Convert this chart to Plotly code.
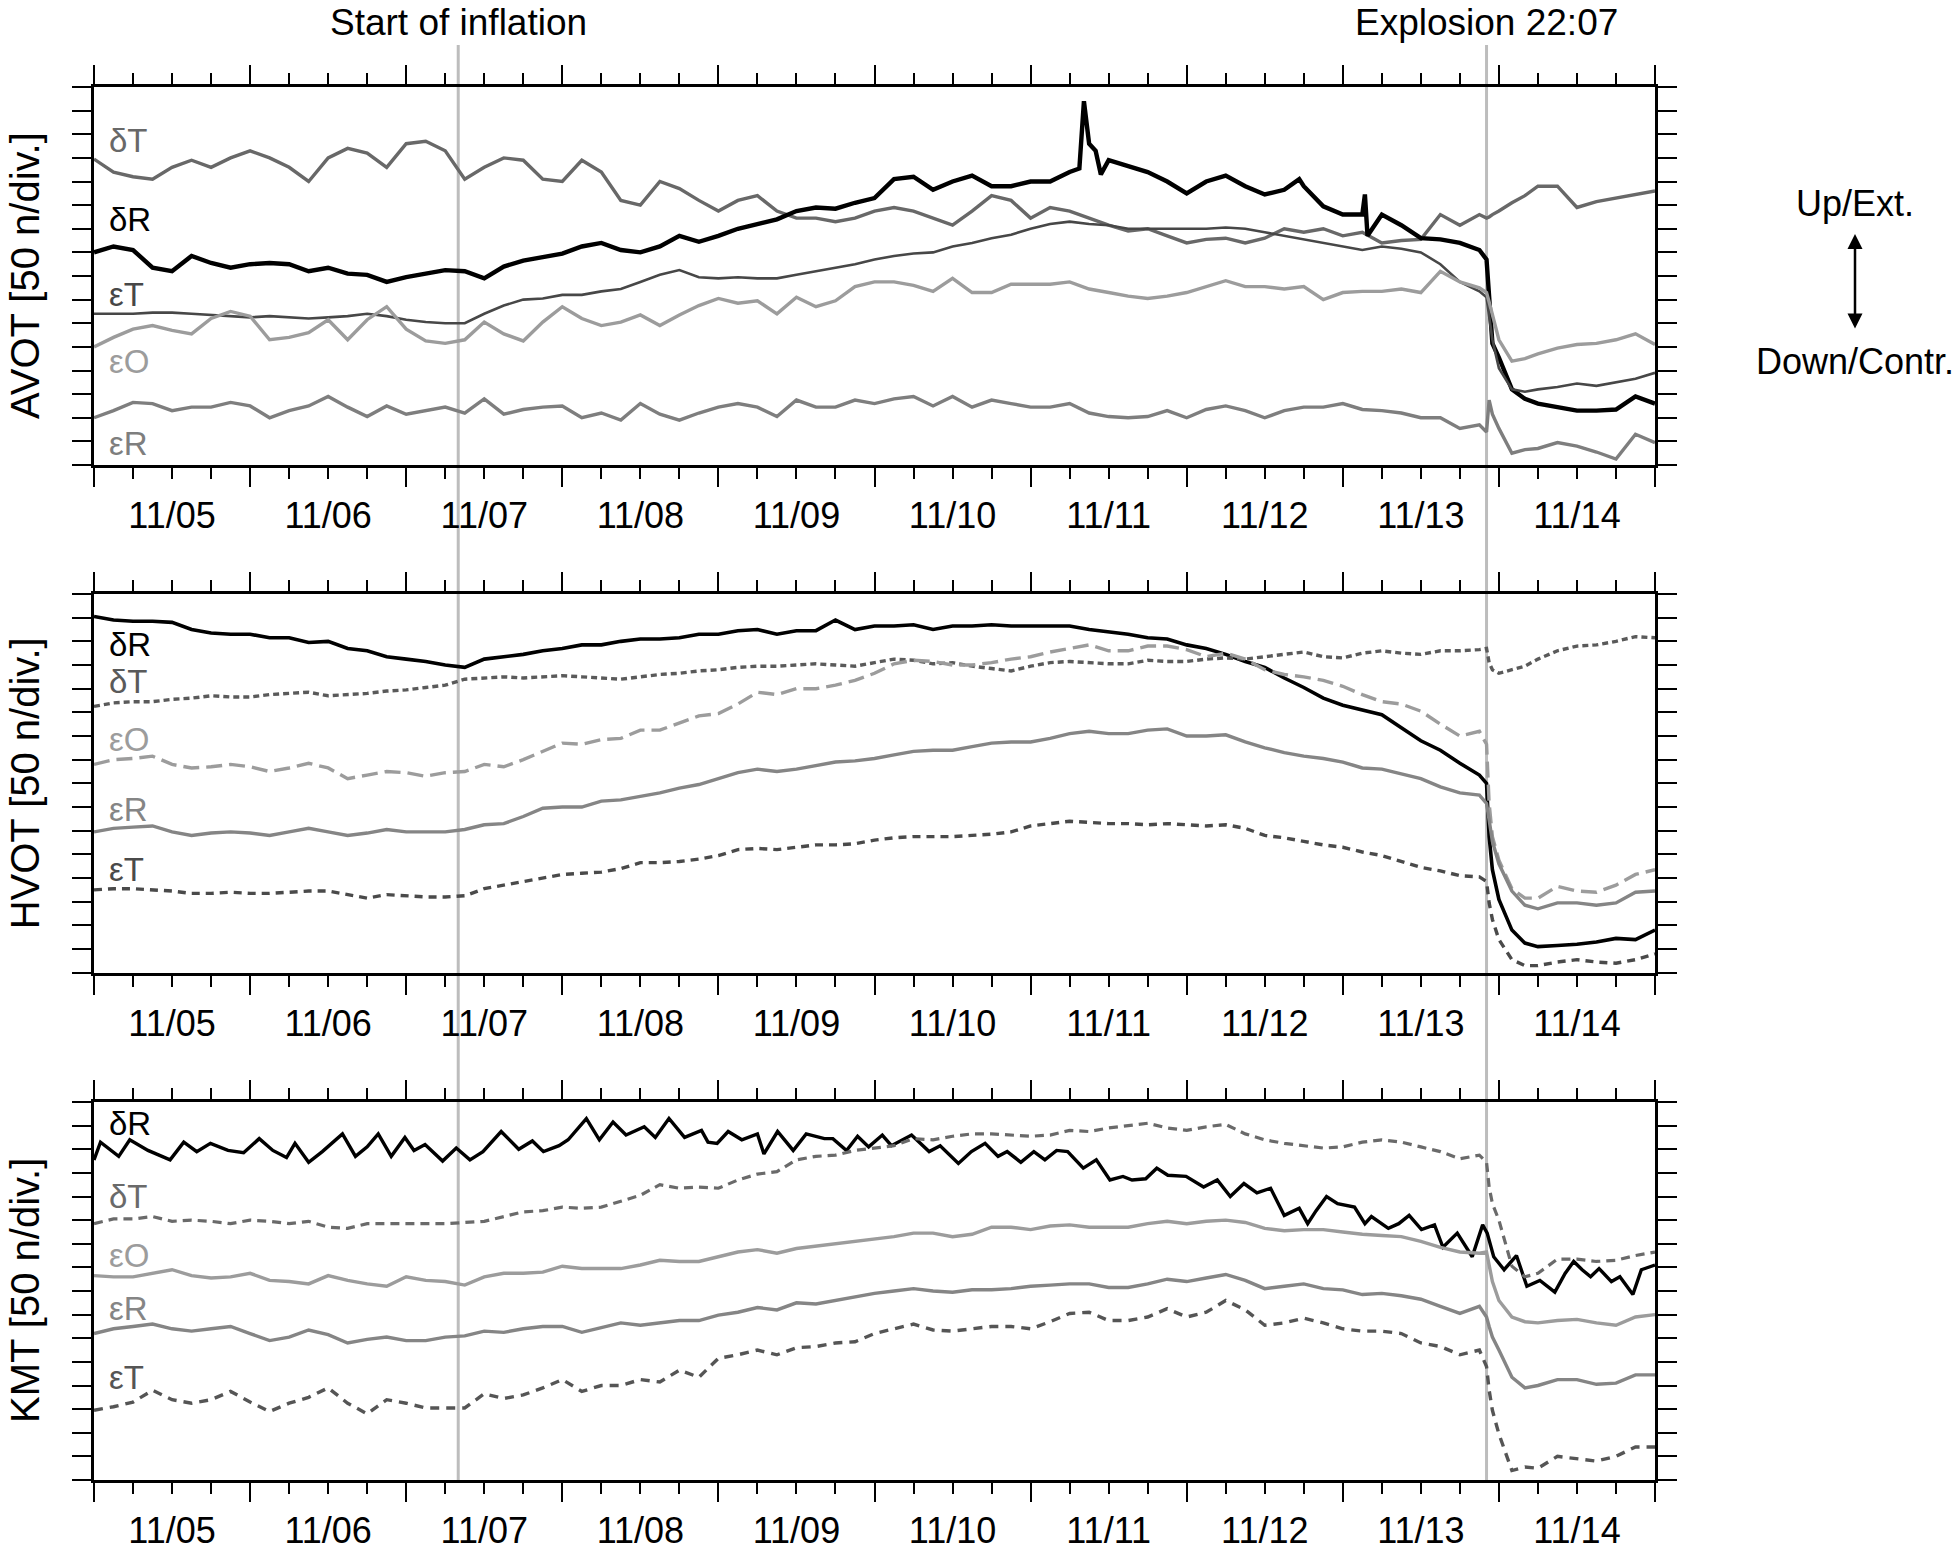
import pandas as pd
import plotly.graph_objects as go

BASE = pd.Timestamp("2014-11-05 00:00")

# common sampling hours (from 11/05 00:00)
HOURS = list(range(0, 214, 3)) + [214.1, 214.5, 215, 216, 218, 220, 222, 225, 228, 231, 234, 237, 240]

# ---------------- AVOT (values in divisions of 50 n) ----------------
AVOT_DT = [12.95, 12.4, 12.2, 12.1, 12.6, 12.9, 12.6, 13.0, 13.3, 13.0, 12.6, 12.0, 13.0, 13.4, 13.2, 12.6,
           13.6, 13.7, 13.3, 12.1, 12.6, 13.0, 12.9, 12.1, 12.0, 12.9, 12.4, 11.2, 11.0, 12.0, 11.7, 11.2,
           10.75, 11.2, 11.4, 10.75, 10.45, 10.45, 10.3, 10.45, 10.75, 10.9, 10.75, 10.45, 10.15, 10.75, 11.4,
           11.2, 10.45, 10.9, 10.75, 10.45, 10.15, 9.9, 10.0, 9.7, 9.4, 9.55, 9.6, 9.4, 9.6, 10.0, 9.85, 10.0,
           9.7, 9.85,
           9.4, 9.5, 9.55, 10.6, 10.15, 10.6,
           10.45, 10.5, 10.6, 10.75, 11.1, 11.4, 11.8, 11.8, 10.9, 11.15, 11.3, 11.45, 11.6]

AVOT_DR_HOURS = (list(range(0, 151, 3)) + [151.5, 152.2, 153, 154, 154.8]
                 + [156, 159, 162, 165, 168, 171, 174, 177, 180, 183, 185.3, 186, 189, 192, 195, 195.4, 195.8,
                    198, 201, 204, 207, 210, 213, 214.1, 214.5, 215, 216, 218, 220, 222, 225, 228, 231, 234,
                    237, 240])
AVOT_DR = [9.0, 9.25, 9.1, 8.35, 8.2, 8.85, 8.55, 8.35, 8.5, 8.55, 8.5, 8.2, 8.35, 8.1, 8.05, 7.75, 7.95,
           8.1, 8.25, 8.2, 7.9, 8.4, 8.65, 8.8, 8.95, 9.25, 9.4, 9.1, 9.0, 9.25, 9.7, 9.45,
           9.7, 10.0, 10.2, 10.4, 10.75, 10.9, 10.85, 11.1, 11.3, 12.1, 12.2, 11.65, 12.0, 12.25, 11.8, 11.8,
           12.0, 12.0, 12.4,
           12.55, 15.4, 13.6, 13.3, 12.3,
           12.9, 12.65, 12.4, 12.0, 11.5, 12.0, 12.25, 11.8, 11.45, 11.65, 12.1, 11.8, 10.95, 10.6, 10.6, 11.45,
           9.7, 10.6, 10.15, 9.6, 9.55, 9.4, 9.1, 8.7, 7.0, 5.15, 4.55, 3.2, 2.8, 2.6, 2.45, 2.3, 2.3, 2.35,
           2.9, 2.6]

AVOT_ET = [6.4, 6.4, 6.4, 6.45, 6.45, 6.4, 6.35, 6.3, 6.25, 6.3, 6.25, 6.2, 6.25, 6.3, 6.4, 6.3, 6.15, 6.05,
           6.0, 6.0, 6.4, 6.75, 7.0, 7.05, 7.2, 7.2, 7.35, 7.45, 7.75, 8.05, 8.25, 7.95,
           7.9, 7.95, 7.9, 7.9, 8.05, 8.2, 8.35, 8.5, 8.7, 8.85, 8.95, 9.0, 9.25, 9.4, 9.6, 9.75, 10.0, 10.2,
           10.3, 10.2, 10.15, 10.0, 10.0, 10.0, 10.0, 10.0, 10.05, 10.0, 9.85, 9.7, 9.55, 9.4, 9.25, 9.1,
           9.25, 9.15, 9.0, 8.5, 7.75, 7.35,
           7.1, 6.2, 5.3, 4.1, 3.2, 3.1, 3.2, 3.3, 3.45, 3.35, 3.5, 3.65, 3.9]

AVOT_EO = [5.0, 5.4, 5.75, 5.9, 5.7, 5.55, 6.2, 6.5, 6.3, 5.3, 5.4, 5.6, 6.15, 5.3, 6.15, 6.7, 5.75, 5.25,
           5.15, 5.3, 6.05, 5.55, 5.25, 6.05, 6.7, 6.2, 5.9, 6.05, 6.35, 5.9, 6.35, 6.75,
           7.05, 6.85, 6.95, 6.4, 7.1, 6.7, 6.95, 7.55, 7.75, 7.75, 7.6, 7.35, 7.9, 7.3, 7.3, 7.65, 7.65, 7.65,
           7.75, 7.45, 7.3, 7.15, 7.05, 7.15, 7.3, 7.55, 7.8, 7.55, 7.55, 7.45, 7.55, 7.0, 7.3, 7.35,
           7.35, 7.45, 7.3, 8.2, 7.75, 7.5,
           7.3, 6.9, 6.4, 5.3, 4.4, 4.5, 4.7, 4.95, 5.1, 5.15, 5.3, 5.55, 5.1]

AVOT_ER = [2.0, 2.3, 2.65, 2.6, 2.3, 2.45, 2.45, 2.65, 2.5, 2.0, 2.3, 2.5, 2.9, 2.45, 2.05, 2.5, 2.15, 2.3,
           2.45, 2.2, 2.8, 2.15, 2.35, 2.45, 2.5, 2.0, 2.2, 1.9, 2.6, 2.15, 1.9, 2.2,
           2.45, 2.6, 2.45, 2.05, 2.75, 2.45, 2.45, 2.75, 2.6, 2.8, 2.9, 2.5, 2.9, 2.45, 2.75, 2.6, 2.45, 2.45,
           2.6, 2.2, 2.05, 2.0, 2.05, 2.3, 2.0, 2.35, 2.5, 2.3, 2.0, 2.3, 2.45, 2.45, 2.6, 2.35,
           2.3, 2.2, 2.0, 2.0, 1.55, 1.7,
           1.4, 2.75, 2.15, 1.55, 0.5, 0.65, 0.7, 0.95, 0.8, 0.55, 0.25, 1.3, 0.95]

# ---------------- HVOT ----------------
HVOT_DR = [15.05, 14.9, 14.85, 14.85, 14.8, 14.5, 14.35, 14.3, 14.3, 14.15, 14.15, 13.95, 14.0, 13.7, 13.6,
           13.35, 13.25, 13.15, 13.0, 12.9, 13.25, 13.35, 13.45, 13.6, 13.7, 13.85, 13.85, 14.0, 14.1, 14.1,
           14.15, 14.3,
           14.3, 14.45, 14.5, 14.3, 14.45, 14.45, 14.9, 14.5, 14.65, 14.65, 14.7, 14.5, 14.65, 14.65, 14.7,
           14.65, 14.65, 14.65, 14.65, 14.5, 14.4, 14.3, 14.15, 14.1, 13.85, 13.7, 13.45, 13.15, 12.9, 12.45,
           12.05, 11.6, 11.3,
           11.1, 10.9, 10.35, 9.8, 9.4, 8.85, 8.35,
           8.0, 5.75, 4.35, 3.1, 1.8, 1.25, 1.1, 1.15, 1.2, 1.3, 1.45, 1.4, 1.8]

HVOT_DT = [11.25, 11.4, 11.45, 11.45, 11.55, 11.6, 11.7, 11.65, 11.65, 11.75, 11.8, 11.85, 11.7, 11.75, 11.8,
           11.9, 11.95, 12.05, 12.15, 12.4, 12.45, 12.5, 12.45, 12.5, 12.55, 12.5, 12.45, 12.4, 12.5, 12.6,
           12.65, 12.75,
           12.8, 12.9, 12.95, 12.95, 13.0, 13.05, 13.0, 12.95, 13.1, 13.25, 13.2, 13.05, 13.1, 12.95, 12.85,
           12.75, 12.95, 13.1, 13.15, 13.1, 13.05, 13.05, 13.2, 13.15, 13.15, 13.25, 13.3, 13.25, 13.35,
           13.45, 13.55, 13.35, 13.3,
           13.5, 13.6, 13.5, 13.45, 13.6, 13.6, 13.65,
           13.7, 13.1, 12.8, 12.65, 12.8, 12.95, 13.25, 13.6, 13.8, 13.85, 14.0, 14.2, 14.15]

HVOT_EO = [8.8, 9.0, 9.05, 9.15, 8.8, 8.65, 8.7, 8.8, 8.7, 8.5, 8.65, 8.85, 8.65, 8.2, 8.35, 8.5, 8.45, 8.3,
           8.45, 8.5, 8.8, 8.7, 9.0, 9.35, 9.7, 9.65, 9.85, 9.9, 10.25, 10.25, 10.55, 10.85,
           10.95, 11.35, 11.85, 11.75, 12.0, 12.0, 12.15, 12.35, 12.65, 13.05, 13.2, 13.15, 13.0, 13.0, 13.1,
           13.25, 13.35, 13.55, 13.7, 13.85, 13.6, 13.6, 13.8, 13.8, 13.65, 13.35, 13.5, 13.25, 12.8, 12.6,
           12.5, 12.35, 12.1,
           11.75, 11.45, 11.35, 11.05, 10.5, 10.0, 10.2,
           9.65, 7.15, 5.75, 4.75, 3.55, 3.15, 3.15, 3.65, 3.45, 3.4, 3.7, 4.15, 4.35]

HVOT_ER = [5.95, 6.1, 6.15, 6.2, 5.95, 5.8, 5.9, 5.95, 5.9, 5.8, 5.95, 6.1, 5.95, 5.8, 5.9, 6.05, 5.95, 5.95,
           5.95, 6.05, 6.25, 6.3, 6.6, 6.95, 7.0, 7.0, 7.25, 7.3, 7.45, 7.6, 7.8, 7.95,
           8.2, 8.45, 8.6, 8.5, 8.6, 8.75, 8.9, 8.95, 9.05, 9.2, 9.35, 9.4, 9.4, 9.55, 9.7, 9.75, 9.75, 9.9,
           10.1, 10.2, 10.1, 10.1, 10.25, 10.3, 10.0, 10.0, 10.05, 9.75, 9.5, 9.3, 9.15, 9.05, 8.9,
           8.65, 8.6, 8.4, 8.2, 7.85, 7.6, 7.5,
           7.15, 6.45, 5.55, 4.6, 3.45, 2.85, 2.7, 2.95, 2.95, 2.85, 2.95, 3.4, 3.45]

HVOT_ET = [3.5, 3.55, 3.55, 3.5, 3.45, 3.35, 3.35, 3.4, 3.35, 3.35, 3.4, 3.45, 3.45, 3.3, 3.15, 3.3, 3.25,
           3.2, 3.2, 3.25, 3.55, 3.7, 3.85, 4.0, 4.15, 4.2, 4.25, 4.4, 4.65, 4.65, 4.7, 4.8,
           4.95, 5.2, 5.25, 5.2, 5.3, 5.4, 5.4, 5.45, 5.6, 5.7, 5.75, 5.75, 5.75, 5.8, 5.85, 5.95, 6.2, 6.3,
           6.4, 6.35, 6.3, 6.3, 6.25, 6.3, 6.25, 6.2, 6.25, 6.1, 5.8, 5.7, 5.55, 5.4, 5.3,
           5.1, 4.95, 4.7, 4.45, 4.3, 4.1, 4.05,
           3.85, 2.95, 2.25, 1.4, 0.55, 0.3, 0.3, 0.45, 0.55, 0.45, 0.4, 0.55, 0.8]

# ---------------- KMT ----------------
KMT_DR_HOURS = [0, 1.0, 3.8, 5.5, 8.3, 11.7, 13.8, 15.8, 17.9, 20.6, 23.0, 25.4, 27.5, 29.6, 30.9, 33.0, 35.1,
                38.2, 40.2, 42.0, 43.7, 45.7, 47.8, 49.2, 50.9, 53.6, 55.7, 57.8, 59.8, 62.6, 65.3, 67.4, 69.1,
                71.5, 72.9, 75.7, 77.7, 79.8, 81.8, 84.6, 86.3, 88.4, 90.8, 93.4,
                94.4, 95.8, 97.5, 99.6, 102.0, 103.0, 105.1, 107.5, 109.5, 112.3, 113.6, 115.7, 117.4, 119.1,
                121.2, 122.6, 125.7, 128.4, 130.1, 132.9, 134.9, 137.0, 139.0, 140.4, 142.5, 144.5, 146.2,
                148.0, 149.7, 152.1, 154.1, 156.2, 158.2, 159.6, 161.7, 163.4, 165.1, 167.9, 170.6, 172.7,
                174.7, 176.8, 178.8, 180.9, 183.0,
                185.3, 186.6, 187.9, 189.5, 191.2, 193.8, 195.4, 196.4, 199.0, 200.6, 202.2, 204.1, 206.1,
                207.4, 209.6, 211.9, 213.5, 214.2, 215.2, 216.8, 218.7, 220.3, 222.3, 224.6, 226.2, 227.5,
                228.8, 230.1, 231.4, 233.3, 234.6, 236.6, 237.9, 240.0]
KMT_DR = [13.55, 14.3, 13.7, 14.4, 13.95, 13.55, 14.3, 13.9, 14.25, 13.95, 13.85, 14.45, 13.95, 13.65, 14.25,
          13.45, 13.9, 14.65, 13.7, 14.1, 14.65, 13.7, 14.5, 13.95, 14.2, 13.5, 14.05, 13.55, 13.9, 14.75,
          14.0, 14.35, 13.9, 14.15, 14.4, 15.3, 14.4, 15.15, 14.6, 14.95, 14.5, 15.3, 14.5, 14.8,
          14.3, 14.25, 14.75, 14.4, 14.65, 13.8, 14.75, 13.95, 14.65, 14.45, 14.45, 13.95, 14.55, 14.1,
          14.6, 14.15, 14.6, 13.9, 14.15, 13.4, 13.9, 14.25, 13.7, 13.9, 13.45, 13.9, 13.55,
          13.95, 13.9, 13.2, 13.55, 12.7, 12.85, 12.7, 12.75, 13.2, 12.9, 12.85, 12.4, 12.7,
          12.0, 12.55, 12.15, 12.35, 11.2,
          11.5, 10.85, 11.4, 12.0, 11.7, 11.55, 10.85, 11.15, 10.65, 10.85, 11.2, 10.6, 10.8,
          9.85, 10.45, 9.45, 10.8, 10.45, 9.45, 8.9, 9.5, 8.2, 8.45, 7.95, 8.75, 9.25,
          8.9, 8.6, 8.95, 8.4, 8.6, 7.85, 8.9, 9.1]

KMT_DT = [10.85, 11.05, 11.05, 11.15, 10.95, 11.0, 10.95, 10.85, 11.0, 10.95, 10.85, 10.95, 10.7, 10.65,
          10.85, 10.85, 10.85, 10.85, 10.85, 10.9, 10.95, 11.15, 11.35, 11.4, 11.55, 11.5, 11.55, 11.8, 12.05,
          12.5, 12.35, 12.4,
          12.35, 12.7, 12.95, 13.05, 13.55, 13.7, 13.75, 13.95, 14.05, 14.15, 14.45, 14.4, 14.55, 14.65,
          14.65, 14.6, 14.55, 14.6, 14.8, 14.75, 14.9, 15.0, 15.1, 14.9, 14.8, 14.95, 15.05, 14.65, 14.4,
          14.25, 14.15, 14.05, 14.1,
          14.3, 14.4, 14.3, 14.1, 13.9, 13.6, 13.75,
          13.45, 12.4, 11.7, 11.0, 9.05, 8.6, 8.75, 9.35, 9.35, 9.25, 9.3, 9.5, 9.65]

KMT_EO = [8.65, 8.6, 8.6, 8.75, 8.9, 8.65, 8.55, 8.6, 8.75, 8.45, 8.4, 8.3, 8.65, 8.45, 8.3, 8.2, 8.6, 8.45,
          8.4, 8.25, 8.6, 8.75, 8.75, 8.8, 9.05, 8.95, 8.95, 8.95, 9.1, 9.3, 9.25, 9.25,
          9.45, 9.65, 9.75, 9.6, 9.8, 9.9, 10.0, 10.1, 10.2, 10.3, 10.45, 10.45, 10.3, 10.4, 10.7, 10.7, 10.6,
          10.75, 10.8, 10.7, 10.7, 10.7, 10.85, 10.95, 10.85, 10.95, 11.0, 10.9, 10.65, 10.55, 10.6, 10.6,
          10.5,
          10.4, 10.35, 10.3, 10.1, 9.85, 9.65, 9.6,
          9.65, 9.0, 8.4, 7.6, 6.9, 6.7, 6.65, 6.75, 6.8, 6.65, 6.55, 6.9, 7.0]

KMT_ER = [6.2, 6.4, 6.5, 6.6, 6.4, 6.3, 6.4, 6.5, 6.2, 5.9, 6.05, 6.35, 6.15, 5.8, 5.95, 6.05, 5.9, 5.9, 6.05,
          6.1, 6.3, 6.25, 6.4, 6.5, 6.5, 6.25, 6.45, 6.65, 6.55, 6.65, 6.75, 6.75,
          6.98, 7.1, 7.3, 7.2, 7.5, 7.45, 7.6, 7.75, 7.9, 8.0, 8.1, 8.0, 7.95, 8.05, 8.05, 8.1, 8.2, 8.25,
          8.3, 8.3, 8.15, 8.15, 8.3, 8.5, 8.4, 8.55, 8.7, 8.45, 8.1, 8.2, 8.3, 8.1, 8.05,
          7.85, 7.9, 7.8, 7.65, 7.35, 7.05, 7.35,
          6.9, 6.5, 6.05, 5.5, 4.35, 3.9, 4.0, 4.25, 4.25, 4.05, 4.1, 4.45, 4.45]

KMT_ET = [2.95, 3.1, 3.3, 3.8, 3.4, 3.25, 3.4, 3.75, 3.3, 2.9, 3.25, 3.5, 3.9, 3.25, 2.8, 3.4, 3.25, 3.05,
          3.05, 3.05, 3.65, 3.45, 3.6, 3.9, 4.25, 3.75, 4.0, 4.0, 4.25, 4.15, 4.65, 4.35,
          5.15, 5.3, 5.5, 5.3, 5.6, 5.65, 5.8, 5.85, 6.2, 6.4, 6.6, 6.35, 6.3, 6.4, 6.5, 6.5, 6.4, 6.7, 7.05,
          7.1, 6.75, 6.75, 6.9, 7.25, 6.9, 7.1, 7.6, 7.2, 6.55, 6.65, 6.85, 6.65, 6.4,
          6.3, 6.3, 6.2, 5.8, 5.65, 5.3, 5.5,
          4.8, 3.8, 2.95, 1.95, 0.4, 0.55, 0.5, 1.0, 0.9, 0.8, 1.0, 1.4, 1.4]

# labels inside panels (y position in divisions)
PANEL_NAMES = ["AVOT", "HVOT", "KMT"]
LABEL_TEXT = {
    "AVOT": ["δT", "δR", "εT", "εO", "εR"],
    "HVOT": ["δR", "δT", "εO", "εR", "εT"],
    "KMT": ["δR", "δT", "εO", "εR", "εT"],
}
LABEL_Y = {
    "AVOT": [13.75, 10.4, 7.2, 4.4, 0.9],
    "HVOT": [13.85, 12.3, 9.85, 6.9, 4.35],
    "KMT": [15.1, 12.0, 9.5, 7.25, 4.35],
}
EVENT_HOURS = [56.0, 214.1]
EVENT_TEXT = ["Start of inflation", "Explosion 22:07"]


def t(hours):
    return [BASE + pd.Timedelta(hours=h) for h in hours]


# style per panel/series: (label, hours, values, color, width, dash)
SERIES = {
    "AVOT": [
        ("δT", HOURS, AVOT_DT, "#686868", 3.4, "solid"),
        ("δR", AVOT_DR_HOURS, AVOT_DR, "#000000", 4.4, "solid"),
        ("εT", HOURS, AVOT_ET, "#474747", 2.6, "solid"),
        ("εO", HOURS, AVOT_EO, "#9c9c9c", 3.4, "solid"),
        ("εR", HOURS, AVOT_ER, "#7e7e7e", 3.4, "solid"),
    ],
    "HVOT": [
        ("δR", HOURS, HVOT_DR, "#000000", 3.6, "solid"),
        ("δT", HOURS, HVOT_DT, "#5a5a5a", 3.4, "6px,4px"),
        ("εO", HOURS, HVOT_EO, "#9c9c9c", 3.4, "16px,7px"),
        ("εR", HOURS, HVOT_ER, "#858585", 3.4, "solid"),
        ("εT", HOURS, HVOT_ET, "#4a4a4a", 3.4, "8px,6px"),
    ],
    "KMT": [
        ("δR", KMT_DR_HOURS, KMT_DR, "#000000", 3.4, "solid"),
        ("δT", HOURS, KMT_DT, "#6a6a6a", 3.2, "9px,6px"),
        ("εO", HOURS, KMT_EO, "#9c9c9c", 3.4, "solid"),
        ("εR", HOURS, KMT_ER, "#858585", 3.4, "solid"),
        ("εT", HOURS, KMT_ET, "#555555", 3.4, "9px,7px"),
    ],
}

W, H = 1960, 1550
PLOT_L, PLOT_R, PLOT_T, PLOT_B = 94, 1655, 87, 1480      # plot area in page pixels
ML, MR, MT, MB = PLOT_L, W - PLOT_R, PLOT_T, H - PLOT_B
PH = PLOT_B - PLOT_T
PW = PLOT_R - PLOT_L
PANEL_PX = [(87, 465), (594, 972.7), (1102, 1480)]      # panel top/bottom in page pixels


def py(page_y):
    return (PLOT_B - page_y) / PH


def px(page_x):
    return (page_x - PLOT_L) / PW


FONT = "Liberation Sans, Arial, Helvetica, sans-serif"
fig = go.Figure()

for i, name in enumerate(PANEL_NAMES):
    xa = "x" if i == 0 else f"x{i+1}"
    ya = "y" if i == 0 else f"y{i+1}"
    for lab, hrs, vals, col, wid, dash in SERIES[name]:
        fig.add_trace(go.Scatter(x=t(hrs), y=vals, mode="lines", xaxis=xa, yaxis=ya,
                                 line=dict(color=col, width=wid, dash=dash), showlegend=False,
                                 hoverinfo="skip"))
    colors = {s[0]: s[3] for s in SERIES[name]}
    for txt, yv in zip(LABEL_TEXT[name], LABEL_Y[name]):
        fig.add_annotation(x=BASE + pd.Timedelta(hours=2), y=yv, xref=xa, yref=ya, text=txt,
                           showarrow=False, xanchor="left", yanchor="middle",
                           font=dict(family=FONT, size=33, color=colors[txt]))

    top, bot = PANEL_PX[i]
    d = [py(bot), py(top)]
    xkey = "xaxis" if i == 0 else f"xaxis{i+1}"
    ykey = "yaxis" if i == 0 else f"yaxis{i+1}"
    fig.update_layout({
        xkey: dict(domain=[0, 1], anchor=ya, type="date", automargin=False,
                   range=[BASE, BASE + pd.Timedelta(days=10)],
                   dtick=86400000, tick0=BASE, tickformat="%m/%d", ticklabelmode="period",
                   ticks="outside", ticklen=19, tickwidth=2, tickcolor="black",
                   minor=dict(dtick=6 * 3600000, ticks="outside", ticklen=11, tickwidth=2,
                              tickcolor="black", showgrid=False),
                   showline=True, linewidth=3, linecolor="black", mirror="ticks",
                   showgrid=False, zeroline=False, ticklabelstandoff=-2,
                   tickfont=dict(family=FONT, size=36, color="black")),
        ykey: dict(domain=d, anchor=xa, range=[0, 16], dtick=1, tick0=0, automargin=False,
                   ticks="outside", ticklen=19, tickwidth=2, tickcolor="black",
                   showticklabels=False, showline=True, linewidth=3, linecolor="black",
                   mirror="ticks", showgrid=False, zeroline=False),
    })
    # y axis title as rotated text
    fig.add_annotation(x=px(25), y=(d[0] + d[1]) / 2, xref="paper", yref="paper",
                       text=f"{name} [50 n/div.]", textangle=-90, showarrow=False,
                       xanchor="center", yanchor="middle",
                       font=dict(family=FONT, size=40, color="black"))

# event lines and titles
for hrs, txt in zip(EVENT_HOURS, EVENT_TEXT):
    xv = BASE + pd.Timedelta(hours=hrs)
    fig.add_shape(type="line", xref="x", yref="paper", x0=xv, x1=xv, y0=0, y1=py(45),
                  line=dict(color="#bdbdbd", width=3), layer="below")
    fig.add_annotation(x=xv, y=py(22), xref="x", yref="paper", text=txt, showarrow=False,
                       xanchor="center", yanchor="middle",
                       font=dict(family=FONT, size=37, color="black"))

# direction legend
fig.add_annotation(x=px(1855), y=py(204), xref="paper", yref="paper", text="Up/Ext.",
                   showarrow=False, xanchor="center", yanchor="middle",
                   font=dict(family=FONT, size=36, color="black"))
fig.add_annotation(x=px(1855), y=py(361), xref="paper", yref="paper", text="Down/Contr.",
                   showarrow=False, xanchor="center", yanchor="middle",
                   font=dict(family=FONT, size=36, color="black"))
fig.add_annotation(x=px(1855), y=py(234), xref="paper", yref="paper", text="",
                   showarrow=True, ax=0, ay=96, axref="pixel", ayref="pixel",
                   arrowhead=2, arrowsize=1.2, arrowwidth=2.5, arrowcolor="black",
                   arrowside="end+start")

fig.update_layout(width=W, height=H, margin=dict(l=ML, r=MR, t=MT, b=MB, pad=0, autoexpand=False),
                  paper_bgcolor="white", plot_bgcolor="rgba(0,0,0,0)", showlegend=False)

fig.write_html("out.html", config={"displayModeBar": False},
               post_script="document.body.style.margin='0px';document.body.style.overflow='hidden';")
